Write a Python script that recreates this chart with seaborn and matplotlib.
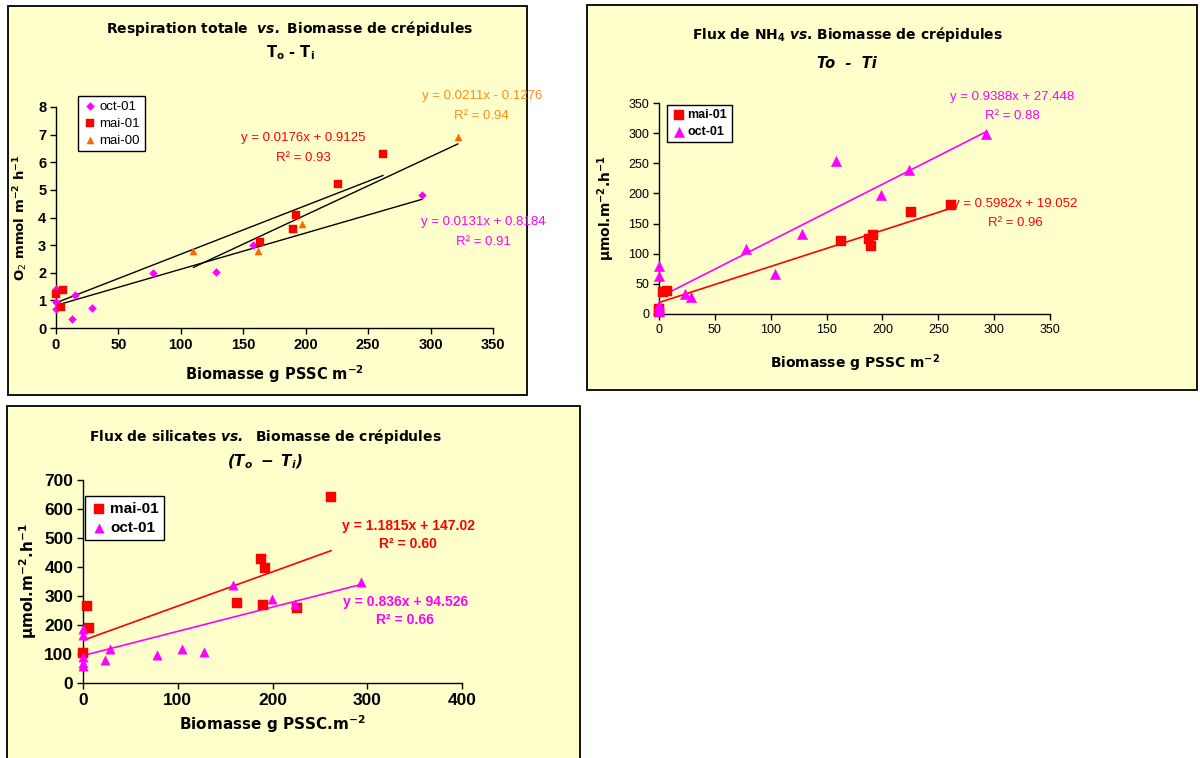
import numpy as np
import pandas as pd
import seaborn as sns
import matplotlib.pyplot as plt
from matplotlib.patches import Rectangle

W, H = 1200, 758
YELLOW = "#FFFFCC"
MAGENTA = "#FF00FF"
RED = "#FF0000"
ORANGE = "#FF6600"
ORANGE_TXT = "#FF8C1A"

# --- panel 1 : respiration totale
resp_oct01_x = [0, 0, 0, 13, 15, 29, 78, 128, 158, 293]
resp_oct01_y = [0.70, 0.93, 1.40, 0.32, 1.18, 0.73, 1.98, 2.03, 3.02, 4.80]
resp_mai01_x = [0, 4, 6, 163, 190, 192, 226, 262]
resp_mai01_y = [1.22, 0.77, 1.38, 3.10, 3.57, 4.10, 5.20, 6.30]
resp_mai00_x = [110, 162, 197, 322]
resp_mai00_y = [2.78, 2.78, 3.76, 6.92]
resp_fits = {"oct-01": (0.0131, 0.8184, 0.91),
             "mai-01": (0.0176, 0.9125, 0.93),
             "mai-00": (0.0211, -0.1276, 0.94)}

# --- panel 2 : flux NH4
nh4_mai01_x = [0, 0, 4, 7, 163, 188, 190, 192, 226, 261]
nh4_mai01_y = [3, 8, 37, 38, 121, 124, 112, 131, 170, 180]
nh4_oct01_x = [0, 0, 0, 0, 0, 23, 29, 78, 104, 128, 158, 199, 224, 293]
nh4_oct01_y = [5, 10, 15, 63, 79, 33, 29, 107, 67, 133, 254, 197, 239, 299]
nh4_fits = {"mai-01": (0.5982, 19.052, 0.96),
            "oct-01": (0.9388, 27.448, 0.88)}

# --- panel 3 : flux silicates
si_mai01_x = [0, 4, 6, 163, 188, 190, 192, 226, 262]
si_mai01_y = [103, 265, 190, 275, 428, 268, 398, 258, 642]
si_oct01_x = [0, 0, 0, 0, 0, 23, 29, 78, 104, 128, 158, 199, 224, 293]
si_oct01_y = [60, 70, 90, 165, 185, 80, 118, 98, 118, 108, 338, 290, 272, 348]
si_fits = {"mai-01": (1.1815, 147.02, 0.60),
           "oct-01": (0.836, 94.526, 0.66)}

sns.set_theme(style="white")
plt.rcParams["font.family"] = ["Liberation Sans", "DejaVu Sans"]
plt.rcParams["mathtext.fontset"] = "dejavusans"
for k in ["text.color", "axes.labelcolor", "xtick.color", "ytick.color"]:
    plt.rcParams[k] = "black"

fig = plt.figure(figsize=(W / 100, H / 100), dpi=100)
fig.patch.set_facecolor("white")


def px_rect(l, t, r, b):
    return [l / W, 1 - b / H, (r - l) / W, (b - t) / H]


def panel(l, t, r, b):
    fig.patches.append(Rectangle((l / W, 1 - b / H), (r - l) / W, (b - t) / H,
                                 transform=fig.transFigure, facecolor=YELLOW,
                                 edgecolor="black", lw=1.3, zorder=-10))


def make_axes(l, t, r, b, xlim, ylim, xticks, yticks, tsize, tweight):
    ax = fig.add_axes(px_rect(l, t, r, b))
    ax.set_facecolor("none")
    ax.set_xlim(*xlim)
    ax.set_ylim(*ylim)
    ax.set_xticks(xticks)
    ax.set_yticks(yticks)
    for s in ["top", "right"]:
        ax.spines[s].set_visible(False)
    for s in ["left", "bottom"]:
        ax.spines[s].set_color("black")
        ax.spines[s].set_linewidth(1.0)
    ax.tick_params(direction="out", length=4, width=1, color="black",
                   labelcolor="black", labelsize=tsize, pad=3,
                   left=True, bottom=True)
    for lab in ax.get_xticklabels() + ax.get_yticklabels():
        lab.set_fontweight(tweight)
    return ax


def scatter(ax, x, y, marker, color, s, label):
    sns.scatterplot(x=x, y=y, marker=marker, color=color, s=s, edgecolor=color,
                    linewidth=0.3, label=label, ax=ax, zorder=4, clip_on=False)


def fit_line(ax, x, a, b, color, lw):
    xs = np.array([min(x), max(x)])
    ax.plot(xs, a * xs + b, color=color, lw=lw, zorder=3)


def eq_text(ax, x, y, a, b, r2, color, size, weight):
    sign = "+" if b >= 0 else "-"
    ax.text(x, y, f"y = {a:g}x {sign} {abs(b):g}", color=color, fontsize=size,
            fontweight=weight, ha="center", va="center")
    ax.text(x, y - (ax.get_ylim()[1] * 0.09), f"R² = {r2:.2f}", color=color,
            fontsize=size, fontweight=weight, ha="center", va="center")


def legend(ax, l, t, size, weight):
    leg = ax.legend(loc="upper left", bbox_to_anchor=(l, t), frameon=True,
                    fancybox=False, edgecolor="black", framealpha=1,
                    facecolor="white", handletextpad=0.1, borderpad=0.35,
                    labelspacing=0.35, handlelength=1.2, borderaxespad=0,
                    prop={"size": size, "weight": weight})
    leg.get_frame().set_linewidth(1.0)
    for t in leg.get_texts():
        t.set_color("black")


# ================= panel 1
panel(8, 6, 527, 395)
ax1 = make_axes(56, 107, 493, 328, (0, 350), (0, 8), range(0, 351, 50),
                range(0, 9), 10.5, "bold")
scatter(ax1, resp_oct01_x, resp_oct01_y, "D", MAGENTA, 16, "oct-01")
scatter(ax1, resp_mai01_x, resp_mai01_y, "s", RED, 26, "mai-01")
scatter(ax1, resp_mai00_x, resp_mai00_y, "^", ORANGE, 26, "mai-00")
fit_line(ax1, resp_oct01_x, *resp_fits["oct-01"][:2], "black", 1.0)
fit_line(ax1, resp_mai01_x, *resp_fits["mai-01"][:2], "black", 1.0)
fit_line(ax1, resp_mai00_x, *resp_fits["mai-00"][:2], "black", 1.0)
eq_text(ax1, 341, 8.4, *resp_fits["mai-00"], ORANGE_TXT, 9.5, "normal")
eq_text(ax1, 198, 6.88, *resp_fits["mai-01"], RED, 9.5, "normal")
eq_text(ax1, 342, 3.84, *resp_fits["oct-01"], MAGENTA, 9.5, "normal")
legend(ax1, 0.05, 1.05, 9.5, "normal")
ax1.set_xlabel("Biomasse g PSSC m$^{\\mathbf{-2}}$", fontsize=10.5,
               fontweight="bold", family="DejaVu Sans", labelpad=8)
ax1.set_ylabel("O$_2$ mmol m$^{\\mathbf{-2}}$ h$^{\\mathbf{-1}}$", fontsize=9.5,
               fontweight="bold", family="DejaVu Sans", labelpad=6)
fig.text(290 / W, 1 - 28 / H,
         "Respiration totale  $\\mathbfit{vs.}$ Biomasse de crépidules",
         ha="center", va="center", fontsize=10, fontweight="bold",
         family="DejaVu Sans")
fig.text(290 / W, 1 - 53 / H, "T$_\\mathbf{o}$ - T$_\\mathbf{i}$",
         ha="center", va="center", fontsize=10.5, fontweight="bold",
         family="DejaVu Sans")

# ================= panel 2
panel(587, 5, 1197, 390)
ax2 = make_axes(659, 103, 1050, 314, (0, 350), (0, 350), range(0, 351, 50),
                range(0, 351, 50), 9, "normal")
scatter(ax2, nh4_mai01_x, nh4_mai01_y, "s", RED, 55, "mai-01")
scatter(ax2, nh4_oct01_x, nh4_oct01_y, "^", MAGENTA, 55, "oct-01")
fit_line(ax2, nh4_mai01_x, *nh4_fits["mai-01"][:2], RED, 1.2)
fit_line(ax2, nh4_oct01_x, *nh4_fits["oct-01"][:2], MAGENTA, 1.2)
eq_text(ax2, 316, 360, *nh4_fits["oct-01"], MAGENTA, 9.5, "normal")
eq_text(ax2, 319, 182, *nh4_fits["mai-01"], RED, 9.5, "normal")
legend(ax2, 0.02, 0.99, 9, "bold")
ax2.set_xlabel("Biomasse g PSSC m$^{\\mathbf{-2}}$", fontsize=10,
               fontweight="bold", family="DejaVu Sans", labelpad=12)
ax2.set_ylabel("$\\mathbf{\\mu}$mol.m$^{\\mathbf{-2}}$.h$^{\\mathbf{-1}}$",
               fontsize=10, fontweight="bold", family="DejaVu Sans", labelpad=8)
fig.text(847 / W, 1 - 34 / H,
         "Flux de NH$_\\mathbf{4}$ $\\mathbfit{vs}$. Biomasse de crépidules",
         ha="center", va="center", fontsize=10, fontweight="bold",
         family="DejaVu Sans")
fig.text(847 / W, 1 - 63 / H, "To  -  Ti", ha="center", va="center",
         fontsize=10.5, fontweight="bold", fontstyle="italic",
         family="DejaVu Sans")

# ================= panel 3
panel(7, 406, 580, 770)
ax3 = make_axes(83, 480, 462, 683, (0, 400), (0, 700), range(0, 401, 100),
                range(0, 701, 100), 12.5, "bold")
scatter(ax3, si_mai01_x, si_mai01_y, "s", RED, 45, "mai-01")
scatter(ax3, si_oct01_x, si_oct01_y, "^", MAGENTA, 45, "oct-01")
fit_line(ax3, si_mai01_x, *si_fits["mai-01"][:2], RED, 1.2)
fit_line(ax3, si_oct01_x, *si_fits["oct-01"][:2], MAGENTA, 1.2)
eq_text(ax3, 343, 541, *si_fits["mai-01"], RED, 10, "bold")
eq_text(ax3, 340, 279, *si_fits["oct-01"], MAGENTA, 10, "bold")
legend(ax3, 0.005, 0.92, 11, "bold")
ax3.set_xlabel("Biomasse g PSSC.m$^{\\mathbf{-2}}$", fontsize=11,
               fontweight="bold", family="DejaVu Sans", labelpad=4)
ax3.set_ylabel("µmol.m$^{\\mathbf{-2}}$.h$^{\\mathbf{-1}}$", fontsize=11,
               fontweight="bold", family="DejaVu Sans", labelpad=4)
fig.text(265 / W, 1 - 437 / H,
         "Flux de silicates $\\mathbfit{vs.}$  Biomasse de crépidules",
         ha="center", va="center", fontsize=10, fontweight="bold",
         family="DejaVu Sans")
fig.text(265 / W, 1 - 462 / H, "$\\mathbfit{(T_o\\ -\\ T_i)}$",
         ha="center", va="center", fontsize=11, family="DejaVu Sans")

fig.savefig("out.png", dpi=100, facecolor="white")
